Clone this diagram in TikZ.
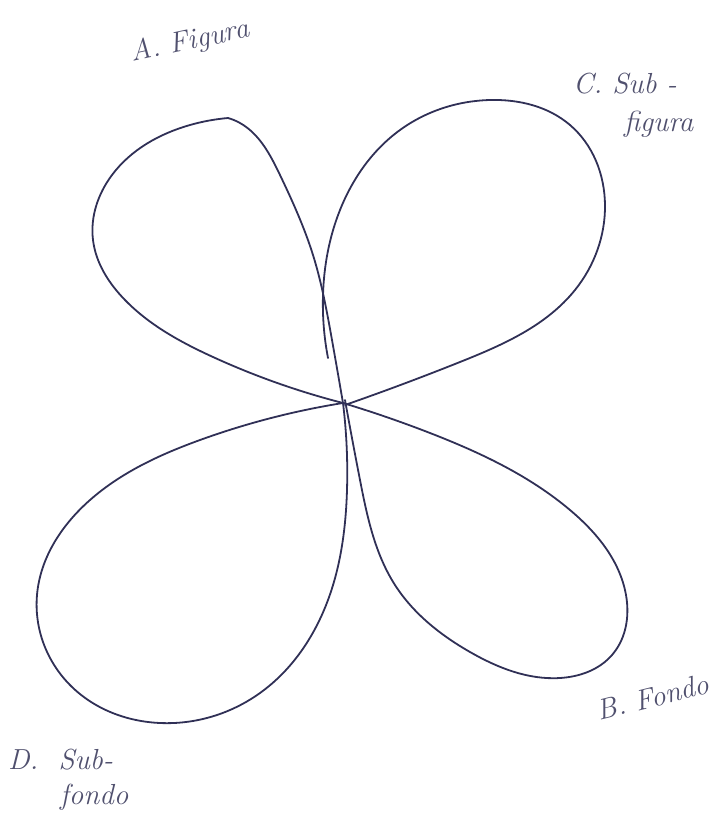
\documentclass[tikz,border=0pt]{standalone}
\usepackage{fontspec}
\usepackage{tikz}
\usetikzlibrary{hobby}
\definecolor{ink}{RGB}{48,48,86}
\definecolor{pencil}{RGB}{80,80,110}
\tikzset{
  leaf/.style={draw=ink, line width=1.8pt, line cap=round, line join=round, use Hobby shortcut},
  hand/.style={text=pencil, font=\fontsize{29}{32}\selectfont\itshape, inner sep=0pt, align=left}
}
\begin{document}
\begin{tikzpicture}[x=1pt,y=-1pt]
\useasboundingbox (0,0) rectangle (714,823);
% top-left leaf (A)
\draw[leaf] (343,403) .. (213,357) .. (125,300) .. (93,240) .. (112,175) .. (190,125) .. (228,118);
\draw[leaf] (228,118) .. (240,123) .. (280,175) .. (313,255) .. (332,340) .. (343,403);
% top-right leaf (C)
\draw[leaf] (328,358) .. (323,295) .. (340,210) .. (400,130) .. (490,100) .. (570,125) .. (605,205) .. (575,290) .. (460,362) .. (345,405);
% bottom-right leaf (B)
\draw[leaf] (343,403) .. (430,433) .. (570,510) .. (625,590) .. (612,655) .. (560,678) .. (470,652) .. (395,585) .. (360,480) .. (345,400);
% bottom-left leaf (D)
\draw[leaf] (343,403) .. (200,440) .. (90,500) .. (37,595) .. (70,685) .. (160,723) .. (260,693) .. (328,600) .. (347,490) .. (343,403);
% labels
\node[hand, rotate=12] (la) at (190,42) {A. Figura};
\node[hand, anchor=west] (lc1) at (573,84) {C.\ Sub -};
\node[hand, anchor=west] (lc2) at (624,124) {figura};
\node[hand, rotate=14] (lb) at (653,697) {B. Fondo};
\node[hand, anchor=west] (ld1) at (8,760) {D.\ \ Sub-};
\node[hand, anchor=west] (ld2) at (60,797) {fondo};
\end{tikzpicture}
\end{document}
